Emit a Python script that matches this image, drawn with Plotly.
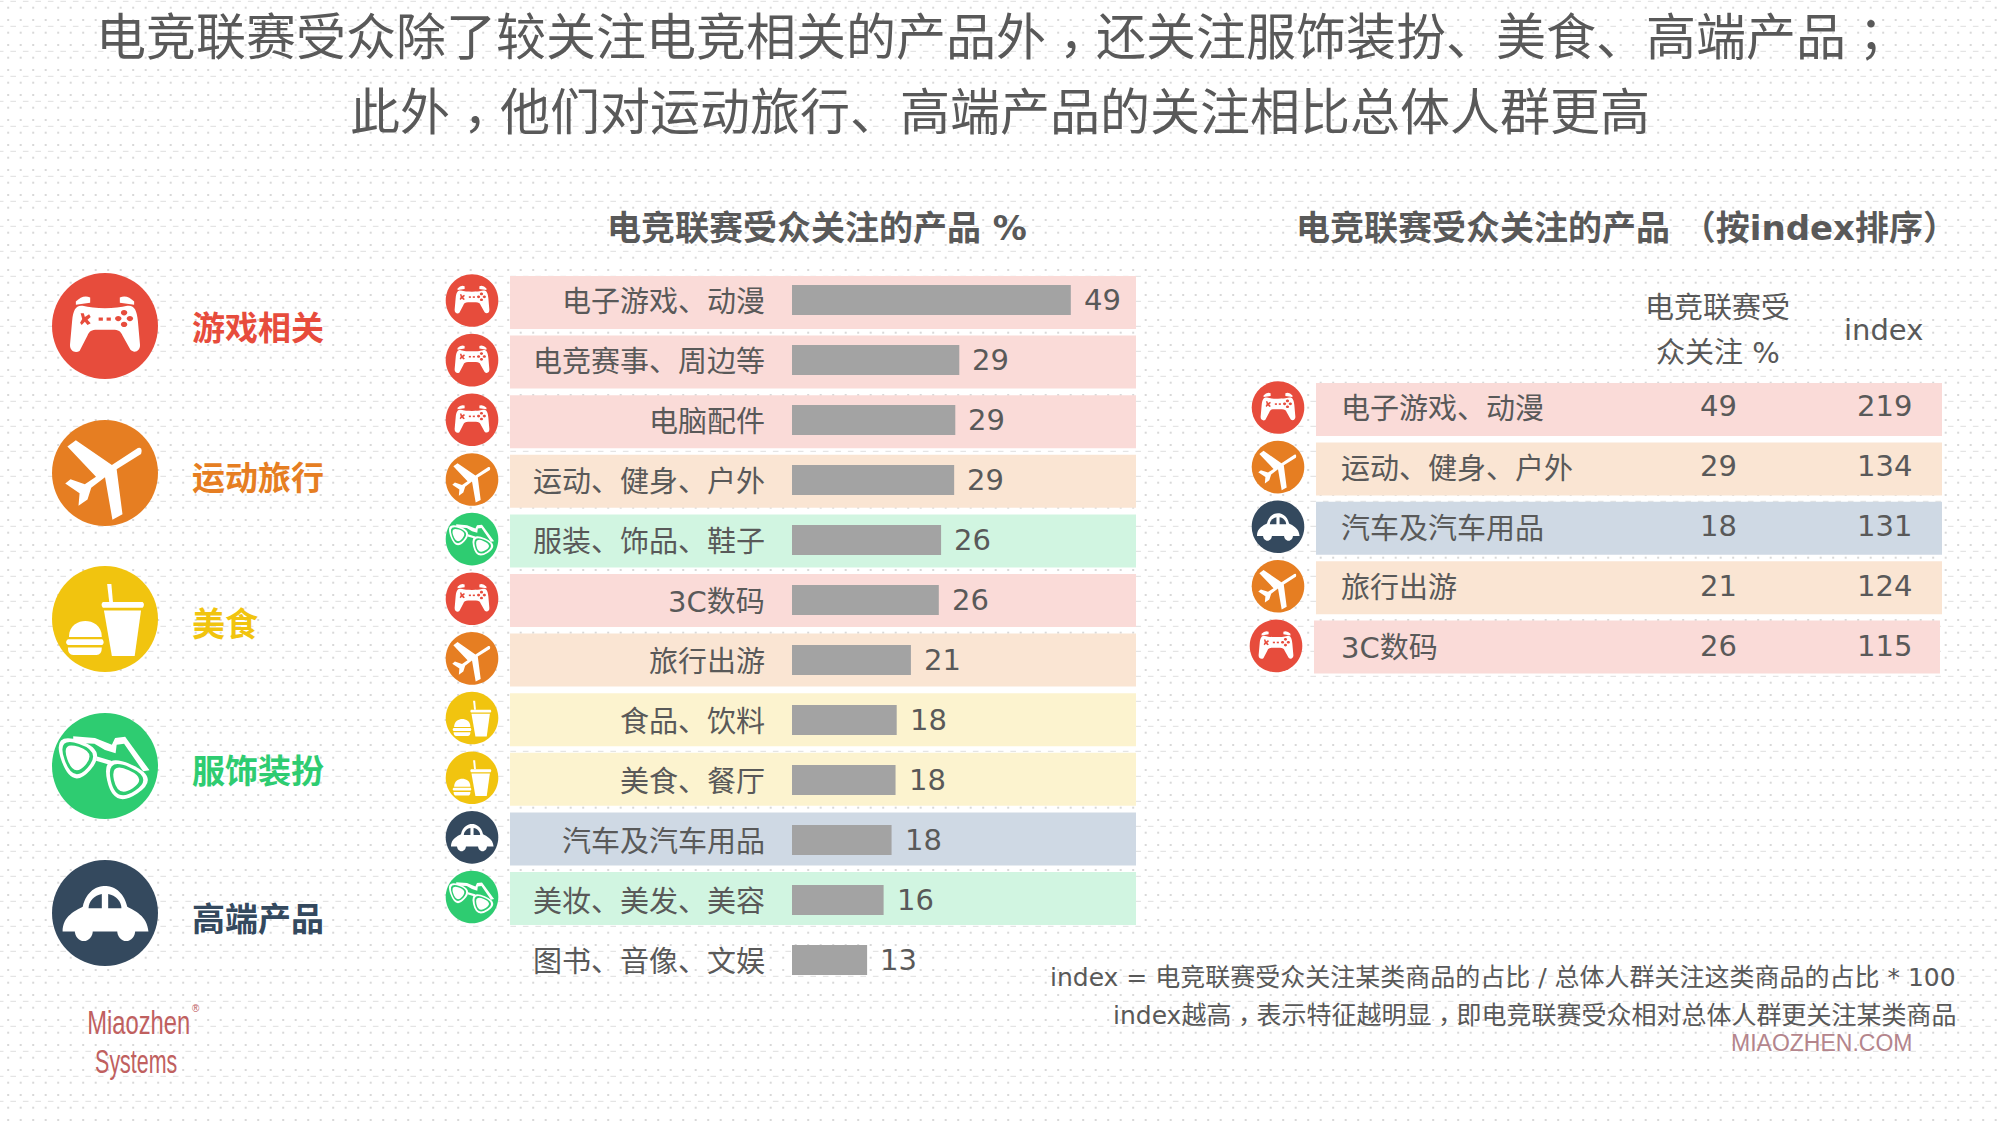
import re
import numpy as np
import plotly.graph_objects as go

W, H = 2000, 1125
FONT = "DejaVu Sans, Noto Sans CJK SC"
TEXT = "#595959"

# data
categories = ["电子游戏、动漫", "电竞赛事、周边等", "电脑配件", "运动、健身、户外", "服装、饰品、鞋子", "3C数码",
              "旅行出游", "食品、饮料", "美食、餐厅", "汽车及汽车用品", "美妆、美发、美容", "图书、音像、文娱"]
bar_values = [49, 29.4, 28.7, 28.5, 26.2, 25.8, 20.9, 18.4, 18.2, 17.5, 16.1, 13.2]
bar_labels = ["49", "29", "29", "29", "26", "26", "21", "18", "18", "18", "16", "13"]
row_groups = ["game", "game", "game", "sport", "fashion", "game", "sport", "food", "food", "car", "fashion", None]

legend_groups = ["game", "sport", "food", "fashion", "car"]
legend_names = ["游戏相关", "运动旅行", "美食", "服饰装扮", "高端产品"]

table_names = ["电子游戏、动漫", "运动、健身、户外", "汽车及汽车用品", "旅行出游", "3C数码"]
table_share = [49, 29, 18, 21, 26]
table_index = [219, 134, 131, 124, 115]
table_groups = ["game", "sport", "car", "sport", "game"]

strong = {"game": "#E74C3C", "sport": "#E67E22", "food": "#F1C40F", "fashion": "#2ECC71", "car": "#34495E"}
pale = {"game": "#FADBD8", "sport": "#FAE5D3", "food": "#FCF3CF", "fashion": "#D1F5E1", "car": "#CFD9E4"}


def scale_path(path, cx, cy, r):
    # icon paths are written for a unit circle, numbers alternate x, y
    parts = re.findall(r"[MLCQZ]|-?\d*\.?\d+", path)
    out, is_x = [], True
    for p in parts:
        if p in "MLCQZ":
            out.append(p)
            is_x = True
        else:
            out.append(f"{(cx if is_x else cy) + float(p) * r:.2f}")
            is_x = not is_x
    return " ".join(out)


def ellipse(x, y, rx, ry):
    k = 0.5523
    return (f"M {x - rx} {y} C {x - rx} {y - k * ry} {x - k * rx} {y - ry} {x} {y - ry} "
            f"C {x + k * rx} {y - ry} {x + rx} {y - k * ry} {x + rx} {y} "
            f"C {x + rx} {y + k * ry} {x + k * rx} {y + ry} {x} {y + ry} "
            f"C {x - k * rx} {y + ry} {x - rx} {y + k * ry} {x - rx} {y} Z")


def rounded_tri(pts, f=1.0):
    cx = sum(p[0] for p in pts) / 3
    cy = sum(p[1] for p in pts) / 3
    q = [(cx + (p[0] - cx) * f, cy + (p[1] - cy) * f) for p in pts]
    mid = [((q[i][0] + q[(i + 1) % 3][0]) / 2, (q[i][1] + q[(i + 1) % 3][1]) / 2) for i in range(3)]
    s = f"M {mid[2][0]:.3f} {mid[2][1]:.3f} "
    for i in range(3):
        s += f"Q {q[i][0]:.3f} {q[i][1]:.3f} {mid[i][0]:.3f} {mid[i][1]:.3f} "
    return s + "Z"


left_lens = [(-1.02, -0.66), (0.06, -0.30), (-0.62, 0.46)]
right_lens = [(-0.08, -0.28), (1.06, 0.22), (0.16, 0.82)]

# (path, "w" white or "c" circle colour)
ICONS = {
    "game": [
        ("M -0.55 -0.46 Q -0.42 -0.6 -0.28 -0.54 L -0.28 -0.44 L -0.55 -0.4 Z", "w"),
        ("M 0.55 -0.46 Q 0.42 -0.6 0.28 -0.54 L 0.28 -0.44 L 0.55 -0.4 Z", "w"),
        ("M -0.42 -0.38 C -0.2 -0.32 0.2 -0.32 0.42 -0.38 C 0.55 -0.4 0.6 -0.3 0.62 -0.1 L 0.66 0.35 "
         "C 0.67 0.48 0.55 0.52 0.48 0.45 L 0.33 0.18 C 0.3 0.1 0.25 0.07 0.15 0.07 L -0.15 0.07 "
         "C -0.25 0.07 -0.3 0.1 -0.33 0.18 L -0.48 0.47 C -0.55 0.52 -0.67 0.48 -0.66 0.35 "
         "L -0.62 -0.1 C -0.6 -0.3 -0.55 -0.4 -0.42 -0.38 Z", "w"),
        ("M -0.46 -0.24 L -0.4 -0.24 L -0.38 -0.17 L -0.3 -0.22 L -0.27 -0.17 L -0.33 -0.12 L -0.27 -0.05 "
         "L -0.33 -0.02 L -0.38 -0.08 L -0.44 -0.02 L -0.47 -0.06 L -0.43 -0.13 Z", "c"),
        ("M -0.12 -0.16 L -0.04 -0.16 L -0.04 -0.1 L -0.12 -0.1 Z", "c"),
        ("M 0.03 -0.16 L 0.11 -0.16 L 0.11 -0.1 L 0.03 -0.1 Z", "c"),
        (ellipse(0.36, -0.25, 0.06, 0.05), "c"),
        (ellipse(0.47, -0.14, 0.06, 0.05), "c"),
        (ellipse(0.25, -0.14, 0.06, 0.05), "c"),
        (ellipse(0.36, -0.03, 0.06, 0.05), "c"),
    ],
    "sport": [
        ("M 0.62 -0.47 L 0.13 -0.15 L -0.55 -0.62 L -0.71 -0.50 L -0.17 0.07 L -0.38 0.21 L -0.65 0.12 "
         "L -0.75 0.20 L -0.48 0.38 L -0.50 0.62 L -0.33 0.50 L -0.26 0.28 L 0.0 0.08 L 0.14 0.88 "
         "L 0.33 0.78 L 0.22 -0.07 L 0.68 -0.36 Q 0.72 -0.5 0.62 -0.47 Z", "w"),
    ],
    "food": [
        ("M 0.04 -0.66 L 0.12 -0.66 L 0.15 -0.32 L 0.08 -0.32 Z", "w"),
        ("M -0.04 -0.32 L 0.71 -0.32 Q 0.76 -0.27 0.71 -0.21 L -0.04 -0.21 Q -0.09 -0.27 -0.04 -0.32 Z", "w"),
        ("M -0.02 -0.16 L 0.68 -0.16 L 0.56 0.70 L 0.13 0.70 Z", "w"),
        ("M -0.68 0.34 C -0.68 0.12 -0.5 0.04 -0.37 0.04 C -0.24 0.04 -0.06 0.12 -0.06 0.34 Z", "w"),
        ("M -0.7 0.38 L -0.05 0.38 Q 0 0.44 -0.05 0.49 L -0.7 0.49 Q -0.77 0.44 -0.7 0.38 Z", "w"),
        ("M -0.7 0.54 L -0.06 0.54 Q -0.06 0.68 -0.16 0.68 L -0.6 0.68 Q -0.7 0.68 -0.7 0.54 Z", "w"),
    ],
    "fashion": [
        # arms folded behind the frame
        ("M -0.6 -0.56 L -0.19 -0.53 L 0.13 -0.40 L 0.19 -0.53 L 0.38 -0.55 L 0.84 0.08 L 0.72 0.1 "
         "L 0.36 -0.42 L 0.22 -0.40 L 0.20 -0.24 L 0.0 -0.30 L -0.2 -0.42 L -0.6 -0.44 Z", "w"),
        ("M -0.15 -0.18 L 0.12 -0.10 L 0.10 -0.02 L -0.17 -0.10 Z", "w"),
        (rounded_tri(left_lens), "w"),
        (rounded_tri(left_lens, 0.8), "c"),
        (rounded_tri(left_lens, 0.62), "w"),
        (rounded_tri(right_lens), "w"),
        (rounded_tri(right_lens, 0.8), "c"),
        (rounded_tri(right_lens, 0.62), "w"),
    ],
    "car": [
        ("M -0.80 0.35 C -0.8 0.05 -0.55 -0.05 -0.42 -0.12 C -0.35 -0.42 -0.15 -0.51 0 -0.51 "
         "C 0.15 -0.51 0.35 -0.42 0.42 -0.12 C 0.55 -0.05 0.8 0.05 0.82 0.35 Z", "w"),
        (ellipse(-0.4, 0.33, 0.17, 0.2), "w"),
        (ellipse(0.4, 0.33, 0.17, 0.2), "w"),
        ("M -0.31 -0.09 C -0.31 -0.22 -0.2 -0.34 -0.06 -0.36 L -0.06 -0.09 Z", "c"),
        ("M 0.31 -0.09 C 0.31 -0.22 0.2 -0.34 0.06 -0.36 L 0.06 -0.09 Z", "c"),
    ],
}

shapes = []
annotations = []


def add_icon(group, cx, cy, r):
    shapes.append(dict(type="path", path=scale_path(ellipse(0, 0, 1, 1), cx, cy, r), xref="x2", yref="y2",
                       fillcolor=strong[group], line_width=0, layer="below"))
    for path, kind in ICONS[group]:
        shapes.append(dict(type="path", path=scale_path(path, cx, cy, r), xref="x2", yref="y2",
                           fillcolor="white" if kind == "w" else strong[group], line_width=0, layer="below"))


def add_band(group, x0, x1, top, height=53):
    shapes.append(dict(type="rect", x0=x0, x1=x1, y0=top, y1=top + height, xref="x2", yref="y2",
                       fillcolor=pale[group], line_width=0, layer="below"))


def label(text, x, y, size, color=TEXT, anchor="center", bold=False, family=FONT, xref="x", yref="y",
          xshift=0, yshift=0):
    # the full-width comma and semicolon sit centred in the cell in the reference, the comma low
    text = text.replace("，", '<span style="font-family:Noto Sans CJK TC;baseline-shift:-0.26em">，</span>')
    text = text.replace("；", '<span style="font-family:Noto Sans CJK TC">；</span>')
    annotations.append(dict(text=text, x=x, y=y, xref=xref, yref=yref, xanchor=anchor, yanchor="middle",
                            showarrow=False, xshift=xshift, yshift=yshift,
                            font=dict(size=size, color=color, family=family, weight="bold" if bold else "normal")))


# watermark tiles, kept inside the page
for tx in [170, 330, 580, 830, 1080, 1330, 1580, 1830]:
    for ty in [145, 265, 470, 675, 880, 990]:
        annotations.append(dict(text="Miaozhen<br>Systems", x=tx, y=ty, xref="x", yref="y", showarrow=False,
                                textangle=-47, font=dict(size=40, color="rgba(0,0,0,0.022)",
                                                         family="Noto Sans", weight="bold")))

# titles
label("电竞联赛受众除了较关注电竞相关的产品外，还关注服饰装扮、美食、高端产品；", 996, 39, 50)
label("此外，他们对运动旅行、高端产品的关注相比总体人群更高", 1000, 120, 50)
label("电竞联赛受众关注的产品 %", 817, 228, 34, bold=True)
label("电竞联赛受众关注的产品 （按index排序）", 1626, 228, 34, bold=True)

# left legend
legend_y = [326, 473, 619, 766, 913]
legend_label_y = [328, 478, 624, 771, 919]
for g, name, cy, ly in zip(legend_groups, legend_names, legend_y, legend_label_y):
    add_icon(g, 105, cy, 53)
    label(name, 190, ly, 33, color=strong[g], anchor="left", bold=True)

# middle rows
for i, (cat, g, val, txt) in enumerate(zip(categories, row_groups, bar_values, bar_labels)):
    if g:
        add_band(g, 510, 1136, 276 + 59.6 * i)
        add_icon(g, 472, 300.5 + 59.65 * i, 26.3)
    label(cat, 767, cat, 29, anchor="right", yref="y3", yshift=-2)
    label(txt, val, cat, 29, anchor="left", xref="x3", yref="y3", xshift=11)

# right table
label("电竞联赛受", 1717, 308, 29)
label("众关注 %", 1718, 353, 29)
label("index", 1883, 330, 29)
for i, (name, share, idx, g) in enumerate(zip(table_names, table_share, table_index, table_groups)):
    off = -2 if i == 4 else 0
    add_band(g, 1316 + off, 1942 + off, 383 + 59.4 * i)
    add_icon(g, 1278 + off, 407.5 + 59.6 * i, 26.3)
    label(name, 1339, 409 + 59.8 * i, 29, anchor="left")
    label(str(share), 1718, 406 + 60 * i, 29)
    label(str(idx), 1884, 406 + 60 * i, 29)

# footnotes and logo
label("index = 电竞联赛受众关注某类商品的占比 / 总体人群关注这类商品的占比 * 100", 1958, 977, 25, anchor="right")
label("index越高，表示特征越明显，即电竞联赛受众相对总体人群更关注某类商品", 1958, 1019, 25, anchor="right")
label("MIAOZHEN.COM", 1821, 1043, 23, color="#B4858C", family="Liberation Sans")
label("Miaozhen", 138, 1022, 34, color="#C0605F", family="Liberation Sans")
label("®", 196, 1008, 10, color="#C0605F", family="Liberation Sans")
label("Systems", 136, 1061, 34, color="#C0605F", family="Liberation Sans")

# dotted background
dot_x = np.arange(8.2, W, 12.5)
dot_rows = np.concatenate([np.arange(7.7, H, 25), np.arange(20, H, 25)])
dx, dy = np.meshgrid(dot_x, dot_rows)
dash_x, dash_y = np.meshgrid(np.arange(0.7, W, 12.5), np.arange(1.3, H, 25))

fig = go.Figure()
fig.add_trace(go.Scatter(x=dx.ravel(), y=dy.ravel(), mode="markers", hoverinfo="skip",
                         marker=dict(symbol="square", size=2, color="#D8D8D8", line_width=0)))
fig.add_trace(go.Scatter(x=dash_x.ravel(), y=dash_y.ravel(), mode="markers", hoverinfo="skip",
                         marker=dict(symbol="line-ew", size=4, line=dict(width=1, color="#DEDEDE"))))
fig.add_trace(go.Scatter(x=[0], y=[0], mode="markers", marker_opacity=0, hoverinfo="skip", xaxis="x2", yaxis="y2"))
fig.add_trace(go.Bar(x=bar_values, y=categories, orientation="h", xaxis="x3", yaxis="y3", width=0.5,
                     marker=dict(color="#A3A3A3", line_width=0), hoverinfo="skip"))

hidden = dict(visible=False, showgrid=False, zeroline=False, fixedrange=True)
bar_x0, px_per_unit = 792, 5.69
fig.update_layout(
    width=W, height=H, autosize=False,
    margin=dict(l=0, r=0, t=0, b=0, pad=0),
    paper_bgcolor="white", plot_bgcolor="rgba(0,0,0,0)",
    showlegend=False,
    shapes=shapes, annotations=annotations,
    xaxis=dict(hidden, range=[0, W], domain=[0, 1]),
    yaxis=dict(hidden, range=[H, 0], domain=[0, 1]),
    xaxis2=dict(hidden, range=[0, W], domain=[0, 1], anchor="y2"),
    yaxis2=dict(hidden, range=[H, 0], domain=[0, 1], anchor="x2"),
    xaxis3=dict(hidden, range=[0, 60], domain=[bar_x0 / W, (bar_x0 + 60 * px_per_unit) / W], anchor="y3"),
    yaxis3=dict(hidden, type="category", categoryorder="array", categoryarray=categories,
                range=[11.5, -0.5], domain=[1 - 990 / H, 1 - 270 / H], anchor="x3"),
)

# page margin off, logo words squeezed to the reference's condensed lettering
post = """
document.body.style.margin = '0';
function squeeze() {
  document.querySelectorAll('.annotation-text').forEach(function (t) {
    var s = t.textContent;
    if (s === 'Miaozhen' || s === 'Systems') {
      t.style.transformBox = 'fill-box';
      t.style.transformOrigin = 'center';
      t.style.transform = s === 'Systems' ? 'scaleX(0.63)' : 'scaleX(0.7)';
    }
  });
}
squeeze();
setTimeout(squeeze, 200);
"""
fig.write_html("out.html", post_script=post, config={"displayModeBar": False})
